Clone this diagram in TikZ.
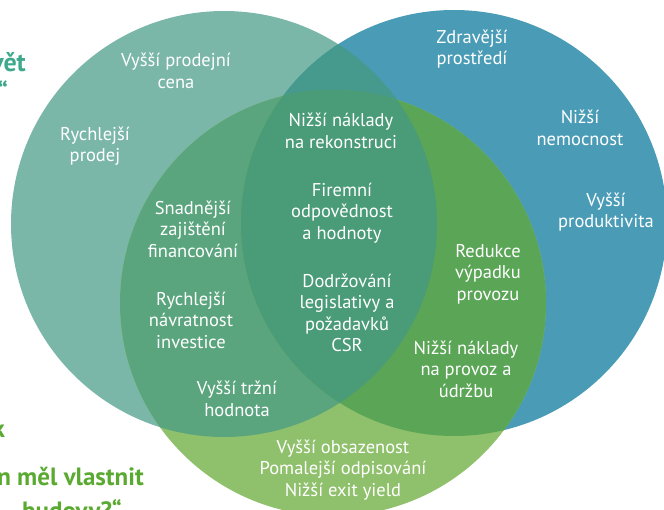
\documentclass[tikz,border=0pt]{standalone}
\usepackage{fontspec}
\setmainfont{PT Sans}
\begin{document}
\begin{tikzpicture}[x=1pt,y=-1pt,
  lbl/.style={text=white,align=center,font=\fontsize{18.5}{21.5}\selectfont,inner sep=0pt},
  headT/.style={text=colHeadTeal,font=\bfseries\fontsize{26}{30}\selectfont,inner sep=0pt},
  headG/.style={text=colHeadGreen,font=\bfseries\fontsize{25}{29}\selectfont,inner sep=0pt}]
\definecolor{colL}{HTML}{7BB7A9}
\definecolor{colB}{HTML}{4A9CB6}
\definecolor{colG}{HTML}{8FC06C}
\definecolor{colLB}{HTML}{459A8D}
\definecolor{colLG}{HTML}{5AA57E}
\definecolor{colBG}{HTML}{5AA556}
\definecolor{colLBG}{HTML}{4A9B77}
\definecolor{colHeadTeal}{HTML}{3EA88C}
\definecolor{colHeadGreen}{HTML}{5AAA32}
\useasboundingbox (0,0) rectangle (664,510);
\clip (0,0) rectangle (664,510);
% circle centres and radius
\coordinate (cL) at (224,224);
\coordinate (cB) at (454,223);
\coordinate (cG) at (333,303);
\def\rad{213}
% single circles
\fill[colL] (cL) circle[radius=\rad];
\fill[colB] (cB) circle[radius=\rad];
\fill[colG] (cG) circle[radius=\rad];
% pairwise overlaps
\begin{scope}
  \clip (cL) circle[radius=\rad];
  \fill[colLB] (cB) circle[radius=\rad];
  \fill[colLG] (cG) circle[radius=\rad];
\end{scope}
\begin{scope}
  \clip (cB) circle[radius=\rad];
  \fill[colBG] (cG) circle[radius=\rad];
\end{scope}
% common core
\begin{scope}
  \clip (cL) circle[radius=\rad];
  \clip (cB) circle[radius=\rad];
  \fill[colLBG] (cG) circle[radius=\rad];
\end{scope}
% surrounding headline fragments
\node[headT,anchor=base east] (h1) at (26,72) {vět};
\node[headT,anchor=base east] (h2) at (8,102) {“};
\node[headG,anchor=base east] (h3) at (5,437) {k};
\node[headG,anchor=base east] (h4) at (144,485) {n měl vlastnit};
\node[headG,anchor=base west] (h5) at (22,519) {budovy?“};
% labels
\node[lbl] (t1) at (176,71) {Vyšší prodejní\\cena};
\node[lbl] (t2) at (95,146) {Rychlejší\\prodej};
\node[lbl] (t3) at (472,49) {Zdravější\\prostředí};
\node[lbl] (t4) at (580,128) {Nižší\\nemocnost};
\node[lbl] (t5) at (606,212) {Vyšší\\produktivita};
\node[lbl] (t6) at (341,131) {Nižší náklady\\na rekonstruci};
\node[lbl] (t7) at (342,213) {Firemní\\odpovědnost\\a hodnoty};
\node[lbl] (t8) at (193,229) {Snadnější\\zajištění\\financování};
\node[lbl] (t9) at (191,320) {Rychlejší\\návratnost\\investice};
\node[lbl] (t10) at (347,313) {Dodržování\\legislativy a\\požadavků\\CSR};
\node[lbl] (t11) at (488,274) {Redukce\\výpadku\\provozu};
\node[lbl] (t12) at (466,369) {Nižší náklady\\na provoz a\\údržbu};
\node[lbl] (t13) at (237,399) {Vyšší tržní\\hodnota};
\node[lbl] (t14) at (343,470) {Vyšší obsazenost\\Pomalejší odpisování\\Nižší exit yield};
\end{tikzpicture}
\end{document}
